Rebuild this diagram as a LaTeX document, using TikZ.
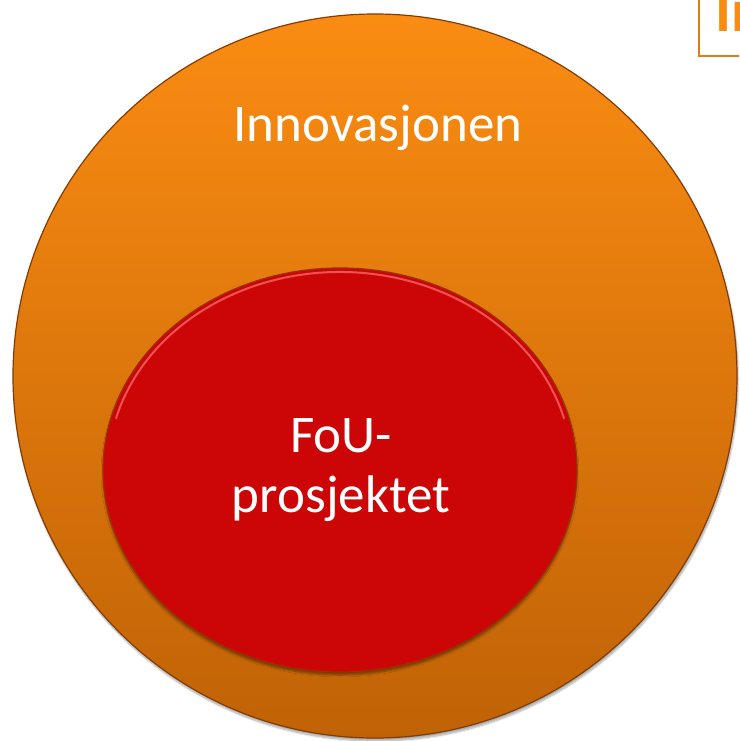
\documentclass[tikz,border=0pt]{standalone}
\usepackage{fontspec}
\setmainfont{Carlito}
\usepackage{xcolor}
\usepackage{tikz}
\usetikzlibrary{shapes.geometric, shadows.blur, positioning}

\definecolor{orangetop}{RGB}{250,140,18}
\definecolor{orangebot}{RGB}{192,98,6}
\definecolor{fouRed}{RGB}{204,6,6}
\definecolor{rimBrown}{RGB}{130,60,5}

\begin{document}
\begin{tikzpicture}[
    x=1pt, y=-1pt,
    outer/.style={circle, minimum size=724pt, inner sep=0pt, top color=orangetop, bottom color=orangebot, draw=rimBrown, line width=1.2pt, blur shadow={shadow xshift=1pt, shadow yshift=-3pt, shadow blur steps=8, shadow opacity=35}},
    inner/.style={ellipse, minimum width=474pt, minimum height=404pt, inner sep=0pt, fill=fouRed, draw=rimBrown!80!red, line width=1.2pt, blur shadow={shadow xshift=0pt, shadow yshift=-3pt, shadow blur steps=6, shadow opacity=40}},
    label/.style={text=white, font=\fontsize{53}{60}\selectfont, align=center}
]
    \useasboundingbox (0,0) rectangle (739,741);
    \clip (0,0) rectangle (739,741);

    \node[outer] (innov) at (375,376) {};
    \node[inner] (fou) at (340,470) {};
    % highlight rim on the red ellipse
    \draw[red!55!white, line width=2pt, opacity=0.7] ([shift={(165:232pt and 198pt)}]fou.center) arc[start angle=165, end angle=15, x radius=232pt, y radius=198pt];

    \node[label] (innovtext) at (378,128) {Innovasjonen};
    \node[label] (foutext) at (341,470) {FoU-\\prosjektet};

    % cut-off box in the corner
    \node[draw=orangetop!90!black, line width=2pt, minimum width=60pt, minimum height=72pt, anchor=south west] (corner) at (698,57) {};
    \node[text=orangetop, font=\fontsize{60}{60}\selectfont\bfseries, anchor=base west, inner sep=0pt] (cornertext) at (715,32) {In};
\end{tikzpicture}
\end{document}
